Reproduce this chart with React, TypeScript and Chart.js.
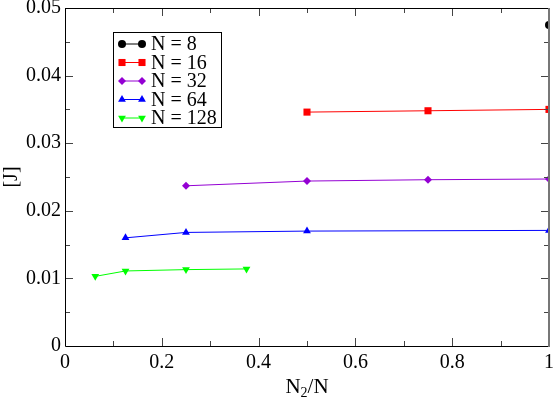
import React, { useEffect, useRef } from "react";
import { Chart, registerables } from "chart.js";

Chart.register(...registerables);

// ---- data ----
const seriesLabels = ["N = 8", "N = 16", "N = 32", "N = 64", "N = 128"];
const n8X = [1];
const n8Y = [0.0475];
const n16X = [0.5, 0.75, 1];
const n16Y = [0.0346, 0.0348, 0.035];
const n32X = [0.25, 0.5, 0.75, 1];
const n32Y = [0.0237, 0.0244, 0.0246, 0.0247];
const n64X = [0.125, 0.25, 0.5, 1];
const n64Y = [0.016, 0.0168, 0.017, 0.0171];
const n128X = [0.0625, 0.125, 0.25, 0.375];
const n128Y = [0.0103, 0.0111, 0.0113, 0.0114];

const xTickLabels = ["0", "0.2", "0.4", "0.6", "0.8", "1"];
const yTickLabels = ["0", "0.01", "0.02", "0.03", "0.04", "0.05"];

const colors = ["#000000", "#ff0000", "#9400d3", "#0000ff", "#00ff00"];
const shapes = ["circle", "rect", "rectRot", "triangle", "triangle"];
const rotations = [0, 0, 0, 0, 180];
const radii = [4, 5, 4, 4.5, 4.5];

const FONT = "'Liberation Serif', 'DejaVu Serif', serif";

function zip(xs: number[], ys: number[]) {
  return xs.map((x, i) => ({ x, y: ys[i] }));
}

function drawMarker(ctx: CanvasRenderingContext2D, shape: string, rot: number, r: number, x: number, y: number, color: string) {
  ctx.save();
  ctx.fillStyle = color;
  ctx.beginPath();
  if (shape === "circle") {
    ctx.arc(x, y, r, 0, Math.PI * 2);
  } else if (shape === "rect") {
    const s = r * Math.SQRT1_2;
    ctx.rect(x - s, y - s, 2 * s, 2 * s);
  } else if (shape === "rectRot") {
    ctx.moveTo(x - r, y);
    ctx.lineTo(x, y + r);
    ctx.lineTo(x + r, y);
    ctx.lineTo(x, y - r);
    ctx.closePath();
  } else if (shape === "triangle") {
    let a = (rot * Math.PI) / 180;
    ctx.moveTo(x + Math.sin(a) * r, y - Math.cos(a) * r);
    a += (2 * Math.PI) / 3;
    ctx.lineTo(x + Math.sin(a) * r, y - Math.cos(a) * r);
    a += (2 * Math.PI) / 3;
    ctx.lineTo(x + Math.sin(a) * r, y - Math.cos(a) * r);
    ctx.closePath();
  }
  ctx.fill();
  ctx.restore();
}

const framePlugin = {
  id: "framePlugin",
  afterDraw(chart: any) {
    const ctx: CanvasRenderingContext2D = chart.ctx;
    const { left, right, top, bottom } = chart.chartArea;
    const xs = chart.scales.x;
    const ys = chart.scales.y;
    ctx.save();
    // ticks (inward, all four sides)
    ctx.strokeStyle = "#444";
    ctx.lineWidth = 1;
    ctx.beginPath();
    for (let i = 1; i < 10; i++) {
      const v = i / 10;
      const px = Math.round(xs.getPixelForValue(v)) + 0.5;
      const len = i % 2 === 0 ? 8 : 5;
      ctx.moveTo(px, bottom);
      ctx.lineTo(px, bottom - len);
      ctx.moveTo(px, top);
      ctx.lineTo(px, top + len);
    }
    for (let i = 1; i < 10; i++) {
      const v = i * 0.005;
      const py = Math.round(ys.getPixelForValue(v)) + 0.5;
      const len = i % 2 === 0 ? 8 : 5;
      ctx.moveTo(left, py);
      ctx.lineTo(left + len, py);
      ctx.moveTo(right, py);
      ctx.lineTo(right - len, py);
    }
    ctx.stroke();
    // frame
    ctx.strokeStyle = "#000";
    ctx.beginPath();
    ctx.moveTo(left + 0.5, top + 0.5);
    ctx.lineTo(right, top + 0.5);
    ctx.moveTo(left + 0.5, top);
    ctx.lineTo(left + 0.5, bottom + 0.5);
    ctx.lineTo(right, bottom + 0.5);
    ctx.stroke();
    ctx.strokeStyle = "#777";
    ctx.lineWidth = 2;
    ctx.beginPath();
    ctx.moveTo(right, top);
    ctx.lineTo(right, bottom + 1);
    ctx.stroke();

    // axis titles
    ctx.fillStyle = "#000";
    ctx.textBaseline = "alphabetic";
    const cx = (left + right) / 2;
    ctx.font = `21px ${FONT}`;
    const wN = ctx.measureText("N").width;
    ctx.font = `14px ${FONT}`;
    const w2 = ctx.measureText("2").width;
    ctx.font = `21px ${FONT}`;
    const wRest = ctx.measureText("/N").width;
    const total = wN + w2 + wRest;
    const x0 = cx - total / 2;
    const base = 393;
    ctx.textAlign = "left";
    ctx.fillText("N", x0, base);
    ctx.font = `14px ${FONT}`;
    ctx.fillText("2", x0 + wN, base + 4);
    ctx.font = `21px ${FONT}`;
    ctx.fillText("/N", x0 + wN + w2, base);

    ctx.save();
    ctx.translate(12, (top + bottom) / 2);
    ctx.rotate(-Math.PI / 2);
    ctx.textAlign = "center";
    ctx.textBaseline = "middle";
    ctx.font = `20px ${FONT}`;
    ctx.fillText("[J]", 0, 0);
    ctx.restore();

    // legend
    const lx = 113.5, ly = 32.5, lw = 108, lh = 95;
    ctx.fillStyle = "#fff";
    ctx.fillRect(lx, ly, lw, lh);
    ctx.strokeStyle = "#000";
    ctx.lineWidth = 1;
    ctx.strokeRect(lx, ly, lw, lh);
    for (let i = 0; i < seriesLabels.length; i++) {
      const yy = 44 + i * 18.5;
      ctx.strokeStyle = colors[i];
      ctx.lineWidth = 1;
      ctx.beginPath();
      ctx.moveTo(122, yy);
      ctx.lineTo(142, yy);
      ctx.stroke();
      drawMarker(ctx, shapes[i], rotations[i], radii[i], 122, yy, colors[i]);
      drawMarker(ctx, shapes[i], rotations[i], radii[i], 142, yy, colors[i]);
      ctx.fillStyle = "#000";
      ctx.font = `20px ${FONT}`;
      ctx.textAlign = "left";
      ctx.textBaseline = "middle";
      ctx.fillText(seriesLabels[i], 151, yy + 1);
    }
    ctx.restore();
  },
};

export default function App() {
  const ref = useRef<HTMLCanvasElement | null>(null);
  useEffect(() => {
    document.body.style.margin = "0";
    const xsArr = [n8X, n16X, n32X, n64X, n128X];
    const ysArr = [n8Y, n16Y, n32Y, n64Y, n128Y];
    const datasets = seriesLabels.map((label, i) => ({
      label,
      data: zip(xsArr[i], ysArr[i]),
      showLine: true,
      borderColor: colors[i],
      backgroundColor: colors[i],
      borderWidth: 1,
      pointStyle: shapes[i] as any,
      pointRotation: rotations[i],
      pointRadius: radii[i],
      pointBorderWidth: 0,
      pointHoverRadius: radii[i],
    }));
    const chart = new Chart(ref.current!, {
      type: "scatter",
      data: { datasets },
      options: {
        animation: false,
        responsive: false,
        events: [],
        layout: { padding: { top: 8, right: 5, left: 0, bottom: 0 } },
        plugins: { legend: { display: false }, tooltip: { enabled: false } },
        scales: {
          x: {
            type: "linear",
            min: 0,
            max: 1,
            border: { display: false },
            grid: { display: false, drawTicks: false },
            ticks: {
              stepSize: 0.2,
              padding: 5,
              color: "#000",
              maxRotation: 0,
              font: { family: FONT, size: 20 },
              callback: (v: any) => {
                const idx = Math.round(Number(v) / 0.2);
                return xTickLabels[idx] ?? "";
              },
            },
            afterFit: (s: any) => {
              s.height = 51;
              s.paddingLeft = 0;
              s.paddingRight = 0;
            },
          },
          y: {
            type: "linear",
            min: 0,
            max: 0.05,
            border: { display: false },
            grid: { display: false, drawTicks: false },
            ticks: {
              stepSize: 0.01,
              padding: 4,
              color: "#000",
              font: { family: FONT, size: 20 },
              callback: (v: any) => {
                const idx = Math.round(Number(v) / 0.01);
                return yTickLabels[idx] ?? "";
              },
            },
            afterFit: (s: any) => {
              s.width = 65;
              s.paddingTop = 0;
              s.paddingBottom = 0;
            },
          },
        },
      },
      plugins: [framePlugin],
    });
    return () => chart.destroy();
  }, []);
  return (
    <div style={{ width: 554, height: 397 }}>
      <canvas ref={ref} width={554} height={397} style={{ display: "block" }} />
    </div>
  );
}
